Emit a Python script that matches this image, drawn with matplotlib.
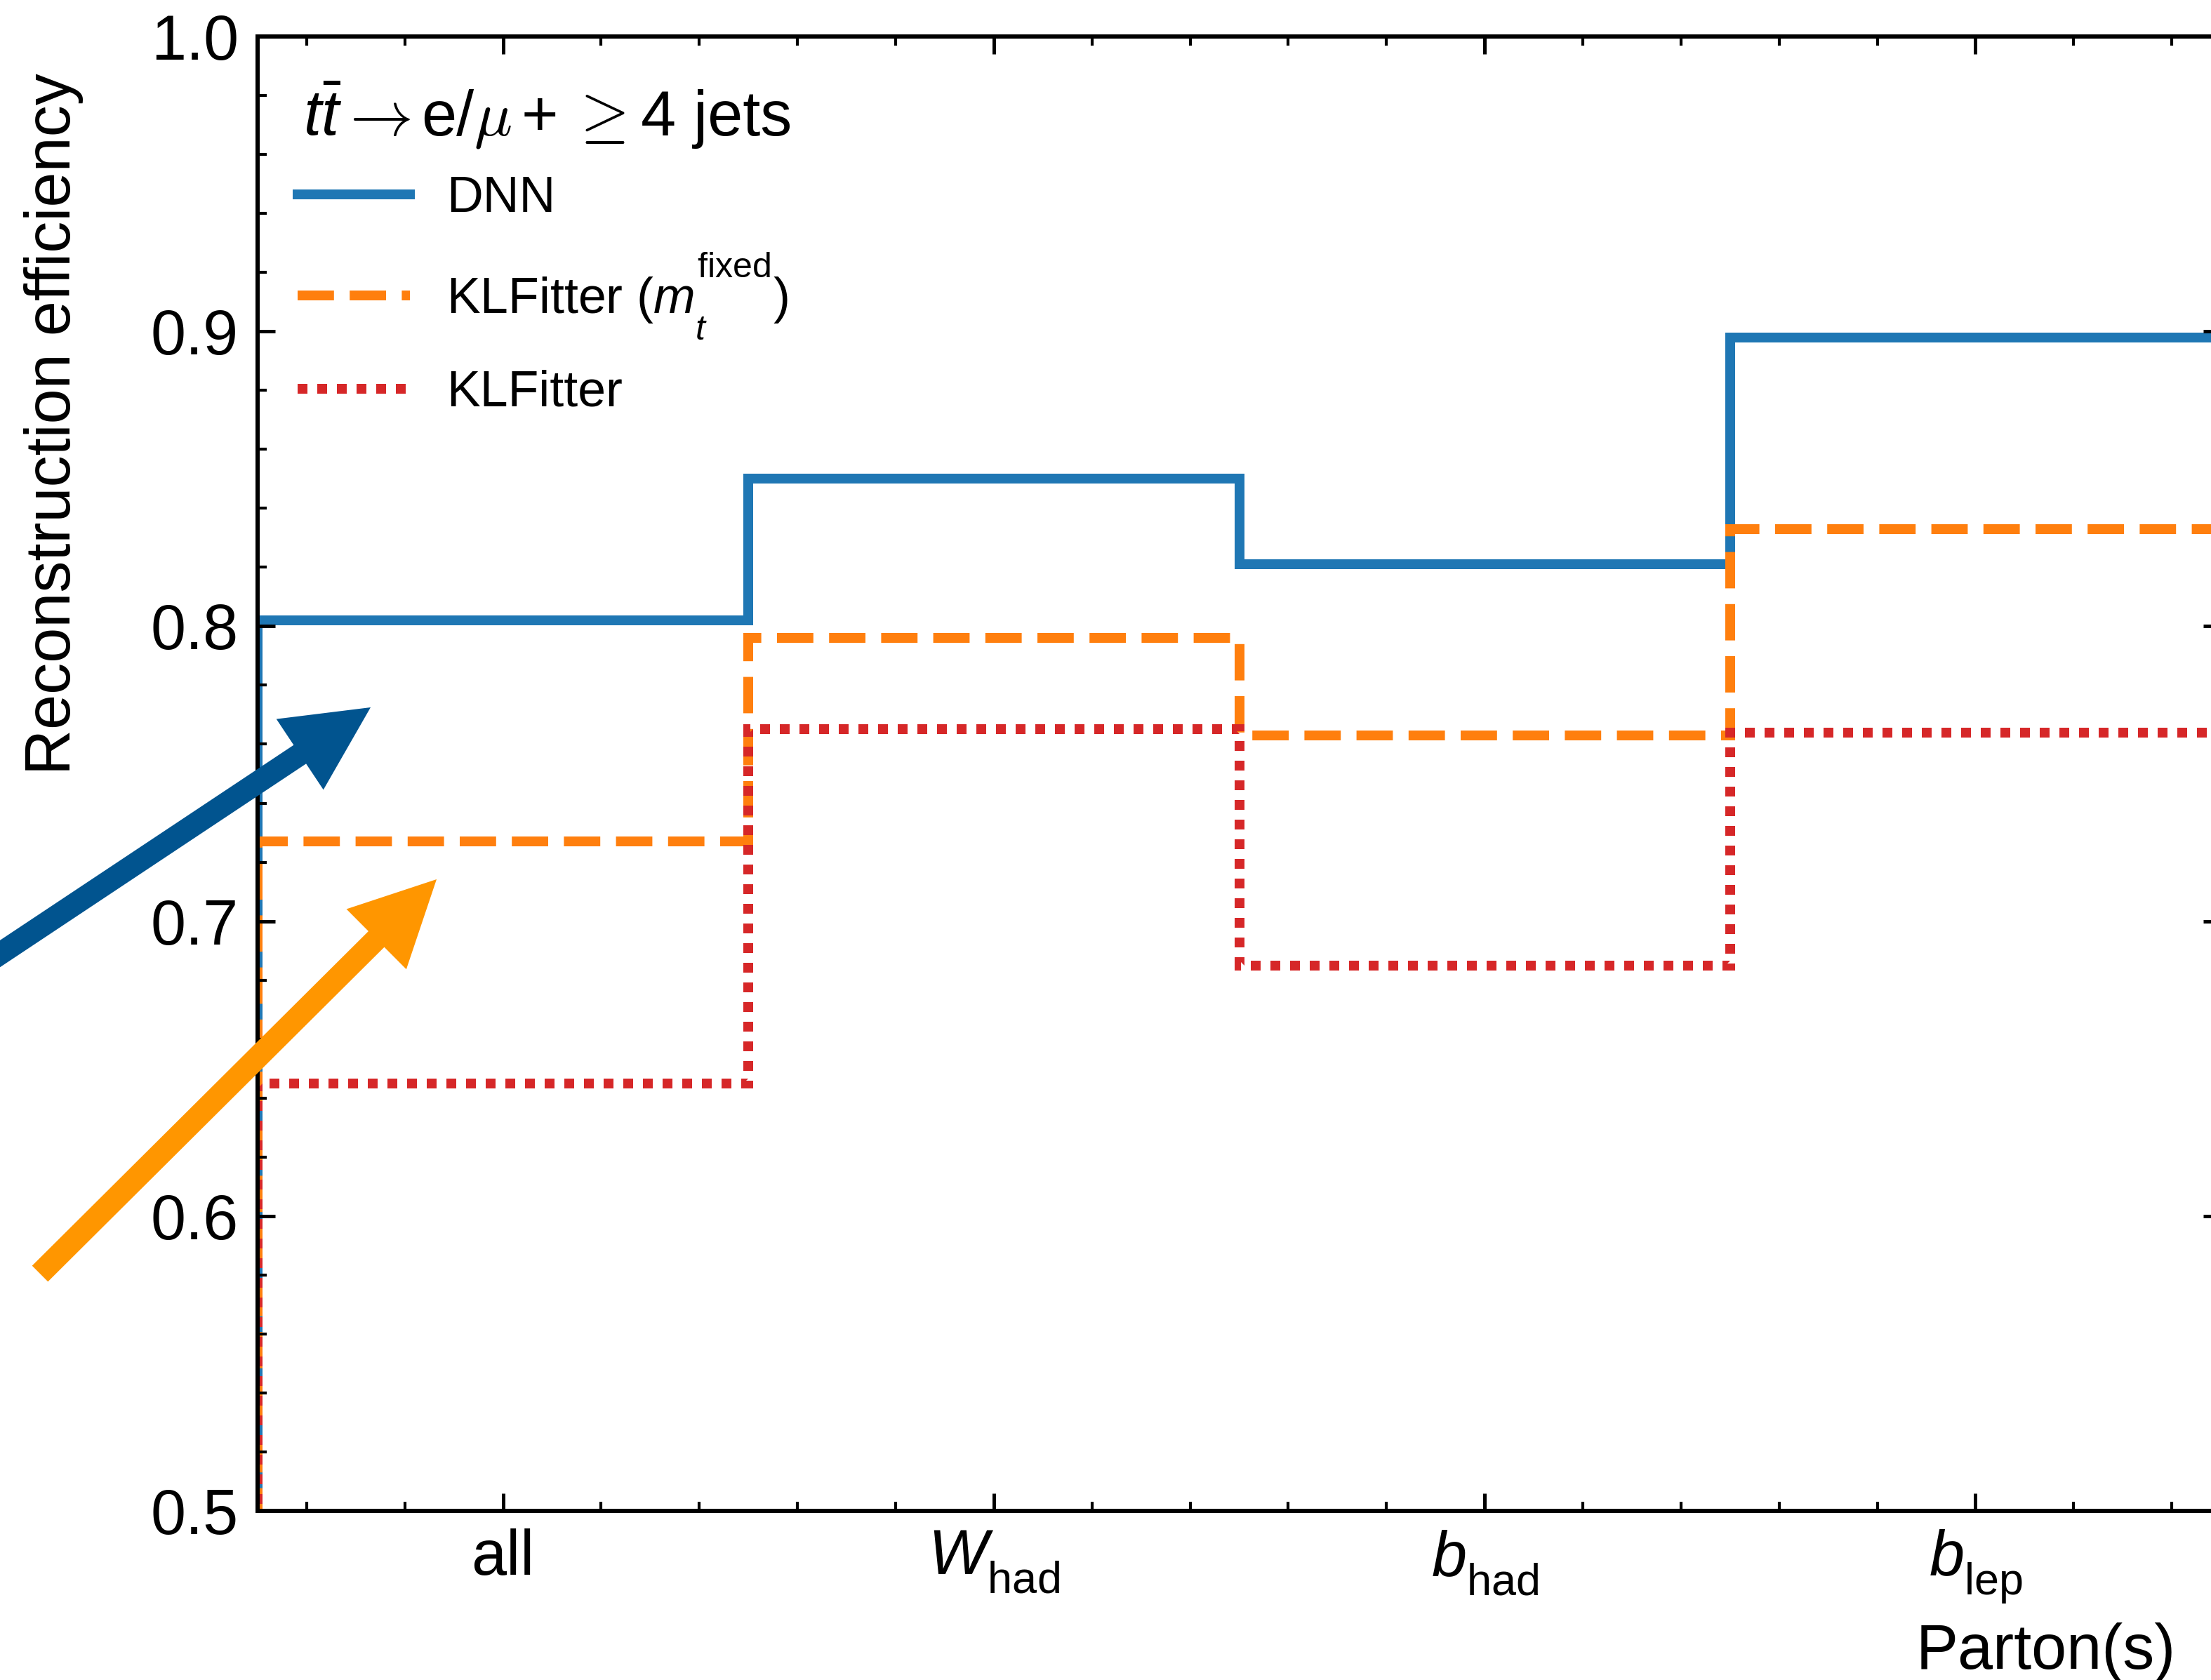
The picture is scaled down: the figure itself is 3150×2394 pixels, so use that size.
import matplotlib
matplotlib.use('Agg')
import matplotlib.pyplot as plt
from matplotlib.ticker import MultipleLocator, FormatStrFormatter
from matplotlib.patches import FancyArrow
from matplotlib.transforms import Affine2D
from matplotlib.lines import Line2D
import numpy as np

# ---- data ----
partons = ['all', r'$W_{\mathrm{had}}$', r'$b_{\mathrm{had}}$', r'$b_{\mathrm{lep}}$']
dnn = [0.802, 0.850, 0.821, 0.898]
klf_fixed = [0.727, 0.796, 0.763, 0.833]
klf = [0.645, 0.765, 0.685, 0.764]
series_labels = ['DNN', r'KLFitter ($m_t^{\mathrm{fixed}}$)', 'KLFitter']
# legend title pieces: (text, math font family)
title_parts = [r'$t\bar{t}$', r'$\rightarrow$', 'e/', r'$\mu$', '+', r'$\geq$', '4 jets']
title_fonts = ['custom', 'cm', 'custom', 'cm', 'custom', 'cm', 'custom']

W, H, DPI = 3150, 2394, 300
plt.rcParams.update({
    'font.family': ['Liberation Sans', 'DejaVu Sans'],
    'mathtext.fontset': 'custom',
    'mathtext.rm': 'Liberation Sans',
    'mathtext.it': 'Liberation Sans:italic',
    'mathtext.bf': 'Liberation Sans:bold',
})

# deeper sub/superscripts, as in the reference rendering
try:
    import matplotlib._mathtext as _mt

    class _SansConsts(_mt.FontConstantsBase):
        sub1 = 0.57
        sub2 = 1.0
        sup1 = 1.34

    _mt._font_constant_mapping['Liberation Sans'] = _SansConsts
except Exception:
    pass

fig = plt.figure(figsize=(W / DPI, H / DPI), dpi=DPI)
ax = fig.add_axes([367 / W, 1 - 2153 / H, (3164 - 367) / W, (2153 - 52) / H])

edges = np.arange(len(partons) + 1) - 0.5
lw = 3.36
colors = ['#1f77b4', '#ff7f0e', '#d62728']
styles = ['-', (0, (3.7, 1.6)), (0, (1, 1))]
for vals, c, s in zip([dnn, klf_fixed, klf], colors, styles):
    ax.stairs(vals, edges, baseline=0, color=c, lw=lw, linestyle=s)

FS = 21.6
ax.set_xlim(-0.5, 3.5)
ax.set_ylim(0.5, 1.0)
ax.set_xticks(range(len(partons)), partons)
ax.xaxis.set_minor_locator(MultipleLocator(0.2))
ax.yaxis.set_major_locator(MultipleLocator(0.1))
ax.yaxis.set_minor_locator(MultipleLocator(0.02))
ax.yaxis.set_major_formatter(FormatStrFormatter('%.1f'))
ax.tick_params(which='both', direction='in', top=True, right=True)
ax.tick_params(which='major', length=6, width=1.2, labelsize=FS)
ax.tick_params(axis='y', which='major', pad=6.5)
ax.tick_params(axis='x', which='major', pad=6)
ax.tick_params(which='minor', length=3.2, width=1.0)
for sp in ax.spines.values():
    sp.set_linewidth(1.44)

ax.set_ylabel('Reconstruction efficiency', fontsize=FS, loc='top')
ax.yaxis.set_label_coords(-0.0885, 0.9752)
ax.set_xlabel('Parton(s)', fontsize=FS, loc='right')
ax.xaxis.set_label_coords(0.9771, -0.0755)

# legend title, laid out piece by piece (arrow, mu and >= in Computer Modern)
renderer = fig.canvas.get_renderer()
gaps = [0, -4, 14, 0, 14, 16, 22]
x_px = 432
for part, mf, gap in zip(title_parts, title_fonts, gaps):
    x_px += gap
    t = fig.text(x_px / W, 1 - 193 / H, part, fontsize=FS, ha='left', va='baseline',
                 math_fontfamily=mf)
    x_px = t.get_window_extent(renderer).x1

handles = [Line2D([], [], color=c, lw=lw, linestyle=s) for c, s in zip(colors, styles)]
leg = ax.legend(handles, series_labels, loc='upper left', bbox_to_anchor=(0, 0.9329),
                frameon=False, fontsize=17.2,
                handlelength=2.23, handletextpad=0.73, labelspacing=0.565,
                borderpad=0.8, borderaxespad=0)

# annotation arrows (pixel coordinates of the output image)
flip = Affine2D().scale(1, -1).translate(0, H)
fig.add_artist(FancyArrow(-60, 1399, 588, -391, width=32, head_width=121, head_length=121,
                          length_includes_head=True, color='#01548F', lw=0,
                          transform=flip, zorder=10))
fig.add_artist(FancyArrow(57, 1815, 565, -562, width=32, head_width=121, head_length=121,
                          length_includes_head=True, color='#FF9600', lw=0,
                          transform=flip, zorder=10))

fig.savefig('out.png', dpi=DPI)
